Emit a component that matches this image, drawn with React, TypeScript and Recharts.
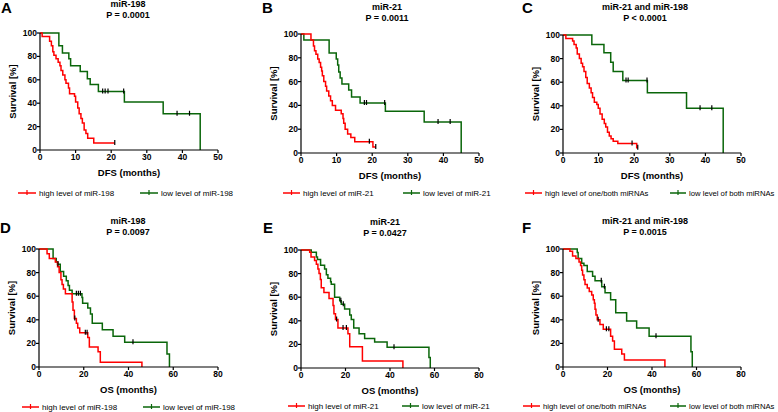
import React from "react";
import { LineChart, Line, XAxis, YAxis } from "recharts";

const FONT = "Arial, 'Liberation Sans', Helvetica, sans-serif";
const RED = "#ff0000";
const GREEN = "#0a660a";

// Kaplan-Meier steps [months, survival %]
const dfs198High: [number, number][] = [
  [0, 100], [0.6, 97], [2.7, 93], [3.2, 89], [3.6, 84], [3.9, 81], [4.5, 78], [5.1, 75],
  [5.6, 72], [5.9, 68], [6.4, 64], [7, 60], [7.3, 57], [8, 53], [8.3, 48], [9.7, 46],
  [10, 41], [10.6, 36], [11, 31], [11.5, 27], [11.9, 23], [12.4, 17], [12.9, 14],
  [13.4, 10], [15.1, 6],
];
const dfs198HighCens = [21];
const dfs198Low: [number, number][] = [
  [0, 100], [5.3, 89], [6.3, 83], [8.1, 78], [8.6, 72], [11.3, 67], [13.3, 61],
  [14.1, 56], [16.4, 50], [23.7, 41], [34.6, 31], [45, 0],
];
const dfs198LowCens = [17.6, 18.3, 19.1, 23.5, 38.5, 42];

const dfs21High: [number, number][] = [
  [0, 100], [2.8, 95], [3.5, 90], [3.8, 86], [4.2, 83], [4.7, 79], [5.1, 76], [5.5, 72],
  [5.8, 69], [6, 65], [6.4, 60], [6.9, 56], [7.2, 52], [7.8, 48], [8.3, 44], [8.8, 40],
  [9.7, 36], [11.3, 33], [11.8, 29], [12, 25], [12.4, 20], [13.1, 16], [14, 13],
  [15.1, 9.5], [20.2, 5],
];
const dfs21HighCens = [19.2, 21];
const dfs21Low: [number, number][] = [
  [0, 100], [0.8, 95], [7.9, 84], [9.9, 79], [10.3, 74], [10.6, 68], [11, 63], [11.5, 58],
  [13.4, 53], [14.2, 47], [16.6, 42], [23.7, 35], [34.6, 26], [45, 0],
];
const dfs21LowCens = [17.8, 18.4, 23.5, 38.5, 41.9];

const dfsBothHigh: [number, number][] = [
  [0, 100], [0.8, 97], [2.7, 95], [3.1, 92], [3.7, 89], [4, 84], [4.6, 80], [5.1, 76],
  [5.5, 73], [5.9, 69], [6.4, 64], [6.8, 59], [7.4, 55], [7.9, 51], [8.3, 47], [8.8, 43],
  [9.5, 41], [9.9, 38], [10.4, 33], [11, 28.5], [11.6, 25], [12, 22], [12.5, 17.5],
  [13, 14.4], [13.5, 12], [14.1, 10], [15.4, 8], [20.7, 4.5],
];
const dfsBothHighCens = [19.4, 21];
const dfsBothLow: [number, number][] = [
  [0, 100], [8.1, 92], [11.5, 85], [13.4, 77], [14.1, 69], [16.8, 61.5], [23.7, 51],
  [34.7, 38], [45, 0],
];
const dfsBothLowCens = [17.7, 18.3, 23.6, 38.5, 41.8];

const os198High: [number, number][] = [
  [0, 100], [3.6, 96], [4.6, 92], [7.3, 89], [8.3, 85], [9, 80], [9.8, 74], [10.3, 70],
  [10.9, 66], [11.8, 62], [14.8, 55], [15.2, 48], [15.8, 41], [16.7, 37], [17.3, 33],
  [18.2, 29], [21.8, 25], [22.5, 17], [26.4, 13], [27.4, 4], [46, 0],
];
const os198HighCens = [16, 20.7, 21.5];
const os198Low: [number, number][] = [
  [0, 100], [6.3, 92], [7.7, 89], [8.3, 87], [9.5, 81], [11, 77], [12.2, 73], [13, 69],
  [13.6, 65], [14.8, 62], [19.2, 59], [19.5, 54], [21.8, 50], [23, 45], [23.8, 37],
  [28.3, 31.6], [33.1, 26], [38.3, 21], [57.2, 11], [58.3, 0],
];
const os198LowCens = [8.5, 16.7, 17.6, 18.5, 42];

const os21High: [number, number][] = [
  [0, 100], [3.9, 98], [4.5, 94], [6.1, 91], [6.9, 88], [7.6, 84], [8.1, 80], [8.7, 75],
  [9.1, 68], [10.3, 64], [12.6, 59], [14.4, 53], [14.8, 46], [15.5, 41], [16.6, 34],
  [21.1, 29], [21.9, 18], [27.6, 6], [45.8, 0],
];
const os21HighCens = [16, 18.9, 20.4];
const os21Low: [number, number][] = [
  [0, 100], [4.6, 98], [6.9, 94], [7.4, 92], [8.8, 87], [10.6, 84], [11.4, 79], [12.1, 76],
  [13.3, 73], [13.6, 71], [15.1, 60], [17.4, 57], [18.1, 54], [19.6, 50], [21.9, 45],
  [22.6, 41], [23.7, 34], [26.1, 29], [28.6, 25], [33.1, 22], [38.7, 17.5], [57.5, 9],
  [58.1, 0],
];
const os21LowCens = [17.9, 19, 41.8];

const osBothHigh: [number, number][] = [
  [0, 100], [3.1, 98], [4.3, 94], [5.8, 92], [7.2, 89], [7.9, 86], [8.4, 82], [8.8, 78],
  [9.4, 74], [9.9, 70], [10.9, 67], [11.8, 64], [12.9, 61], [13.6, 57], [14.1, 54],
  [14.4, 49], [14.8, 44], [15.4, 40], [16.6, 36], [18.1, 32], [21.4, 26], [22.3, 22],
  [23.1, 15], [26.4, 11], [27.6, 6], [45.8, 0],
];
const osBothHighCens = [15.8, 19.5, 20.6];
const osBothLow: [number, number][] = [
  [0, 100], [6.4, 97], [6.8, 92], [8.4, 88], [9.4, 86], [10.9, 81], [13.3, 77], [14.4, 73],
  [17.4, 68], [18.9, 63], [21.4, 57], [23.7, 46], [28.6, 39], [33.1, 33], [38.7, 26],
  [57.5, 13], [58.1, 0],
];
const osBothLowCens = [17.2, 18.6, 41.8];

const dfsTicks = [0, 10, 20, 30, 40, 50];
const osTicks = [0, 20, 40, 60, 80];
const yTicks = [0, 20, 40, 60, 80, 100];

// merge censor marks into the step data (a censor sits on the current level)
function km(steps: [number, number][], cens: number[]) {
  const pts = steps.map(([t, s]) => ({ t, s, c: false }));
  cens.forEach((ct) => {
    let s = 100;
    steps.forEach(([t, v]) => {
      if (t <= ct) s = v;
    });
    pts.push({ t: ct, s, c: true });
  });
  return pts.sort((a, b) => a.t - b.t);
}

const censorDot = (props: any) => {
  const { cx, cy, payload, index } = props;
  if (!payload || !payload.c) return <g key={`n${index}`} />;
  return (
    <line key={`c${index}`} x1={cx} x2={cx} y1={cy - 3} y2={cy + 2} stroke="#000" strokeWidth={1.2} />
  );
};

const panels = [
  {
    letter: "A", title: "miR-198", p: "P = 0.0001", xLabel: "DFS (months)",
    high: km(dfs198High, dfs198HighCens), low: km(dfs198Low, dfs198LowCens),
    highLabel: "high level of miR-198", lowLabel: "low level of miR-198",
    box: [40, 33, 218, 150], xMax: 50, xTicks: dfsTicks, legFont: 8,
    letterX: 1, letterY: 13, titleX: 128, titleY: 7, legY: 193, leg: [18, 39, 140, 161],
  },
  {
    letter: "B", title: "miR-21", p: "P = 0.0011", xLabel: "DFS (months)",
    high: km(dfs21High, dfs21HighCens), low: km(dfs21Low, dfs21LowCens),
    highLabel: "high level of miR-21", lowLabel: "low level of miR-21",
    box: [301, 34, 479, 153], xMax: 50, xTicks: dfsTicks, legFont: 8,
    letterX: 262, letterY: 13, titleX: 387, titleY: 10, legY: 193, leg: [283, 303, 403, 423],
  },
  {
    letter: "C", title: "miR-21 and miR-198", p: "P < 0.0001", xLabel: "DFS (months)",
    high: km(dfsBothHigh, dfsBothHighCens), low: km(dfsBothLow, dfsBothLowCens),
    highLabel: "high level of one/both miRNAs", lowLabel: "low level of both miRNAs",
    box: [563, 35, 741, 153], xMax: 50, xTicks: dfsTicks, legFont: 7.7,
    letterX: 522, letterY: 13, titleX: 645, titleY: 10, legY: 193, leg: [525, 545, 670, 689],
  },
  {
    letter: "D", title: "miR-198", p: "P = 0.0097", xLabel: "OS (months)",
    high: km(os198High, os198HighCens), low: km(os198Low, os198LowCens),
    highLabel: "high level of miR-198", lowLabel: "low level of miR-198",
    box: [39, 249, 218, 367], xMax: 80, xTicks: osTicks, legFont: 8,
    letterX: 0, letterY: 233, titleX: 128, titleY: 224, legY: 407, leg: [22, 42, 143, 163],
  },
  {
    letter: "E", title: "miR-21", p: "P = 0.0427", xLabel: "OS (months)",
    high: km(os21High, os21HighCens), low: km(os21Low, os21LowCens),
    highLabel: "high level of miR-21", lowLabel: "low level of miR-21",
    box: [301, 250, 479, 368], xMax: 80, xTicks: osTicks, legFont: 8,
    letterX: 263, letterY: 233, titleX: 385, titleY: 225, legY: 406, leg: [288, 308, 402, 422],
  },
  {
    letter: "F", title: "miR-21 and miR-198", p: "P = 0.0015", xLabel: "OS (months)",
    high: km(osBothHigh, osBothHighCens), low: km(osBothLow, osBothLowCens),
    highLabel: "high level of one/both miRNAs", lowLabel: "low level of both miRNAs",
    box: [563, 249, 741, 367], xMax: 80, xTicks: osTicks, legFont: 7.7,
    letterX: 522, letterY: 233, titleX: 645, titleY: 224, legY: 406, leg: [523, 543, 670, 689],
  },
];

const tickStyle = { fontSize: 8.5, fontWeight: "bold", fill: "#000", fontFamily: FONT };

function Panel({ cfg }: { cfg: (typeof panels)[number] }) {
  const [x0, y0, x1, y1] = cfg.box;
  const w = x1 - x0 + 52;
  const h = y1 - y0 + 40;
  return (
    <div style={{ position: "absolute", left: x0 - 40, top: y0 - 8 }}>
      <LineChart width={w} height={h} margin={{ top: 8, right: 12, bottom: 0, left: 0 }}>
        <XAxis
          type="number"
          dataKey="t"
          domain={[0, cfg.xMax]}
          ticks={cfg.xTicks}
          interval={0}
          height={32}
          stroke="#000"
          strokeWidth={1.2}
          tickSize={3}
          tickMargin={1}
          tick={tickStyle}
          allowDataOverflow
        />
        <YAxis
          type="number"
          domain={[0, 100]}
          ticks={yTicks}
          interval={0}
          width={40}
          stroke="#000"
          strokeWidth={1.2}
          tickSize={3}
          tickMargin={0}
          tick={tickStyle}
        />
        <Line
          data={cfg.low}
          dataKey="s"
          type="stepAfter"
          stroke={GREEN}
          strokeWidth={1.5}
          dot={censorDot}
          activeDot={false}
          isAnimationActive={false}
        />
        <Line
          data={cfg.high}
          dataKey="s"
          type="stepAfter"
          stroke={RED}
          strokeWidth={1.5}
          dot={censorDot}
          activeDot={false}
          isAnimationActive={false}
        />
      </LineChart>
    </div>
  );
}

function Texts({ cfg }: { cfg: (typeof panels)[number] }) {
  const [x0, y0, x1, y1] = cfg.box;
  const [r1, rt, g1, gt] = cfg.leg;
  const ly = cfg.legY;
  return (
    <g fontFamily={FONT} fill="#000">
      <text x={cfg.letterX} y={cfg.letterY} fontSize={15} fontWeight="bold">{cfg.letter}</text>
      <text x={cfg.titleX} y={cfg.titleY} fontSize={9} fontWeight="bold" textAnchor="middle">{cfg.title}</text>
      <text x={cfg.titleX} y={cfg.titleY + 11} fontSize={9} fontWeight="bold" textAnchor="middle">{cfg.p}</text>
      <text
        transform={`translate(${x0 - 27 + 3.4},${(y0 + y1) / 2}) rotate(-90)`}
        fontSize={9.5}
        fontWeight="bold"
        textAnchor="middle"
      >
        Survival [%]
      </text>
      <text x={(x0 + x1) / 2} y={y1 + 26} fontSize={9.5} fontWeight="bold" textAnchor="middle">{cfg.xLabel}</text>
      <line x1={r1} x2={rt - 3} y1={ly} y2={ly} stroke={RED} strokeWidth={1.5} />
      <line x1={(r1 + rt - 3) / 2} x2={(r1 + rt - 3) / 2} y1={ly - 3} y2={ly + 2} stroke={RED} strokeWidth={1.2} />
      <text x={rt} y={ly + 3} fontSize={cfg.legFont}>{cfg.highLabel}</text>
      <line x1={g1} x2={gt - 3} y1={ly} y2={ly} stroke={GREEN} strokeWidth={1.5} />
      <line x1={(g1 + gt - 3) / 2} x2={(g1 + gt - 3) / 2} y1={ly - 3} y2={ly + 2} stroke={GREEN} strokeWidth={1.2} />
      <text x={gt} y={ly + 3} fontSize={cfg.legFont}>{cfg.lowLabel}</text>
    </g>
  );
}

export default function App() {
  return (
    <div
      style={{
        position: "absolute",
        left: 0,
        top: 0,
        width: 778,
        height: 412,
        background: "#fff",
        overflow: "hidden",
        fontFamily: FONT,
      }}
    >
      {panels.map((cfg) => (
        <Panel key={cfg.letter} cfg={cfg} />
      ))}
      <svg
        width={778}
        height={412}
        style={{ position: "absolute", left: 0, top: 0, pointerEvents: "none" }}
      >
        {panels.map((cfg) => (
          <Texts key={cfg.letter} cfg={cfg} />
        ))}
      </svg>
    </div>
  );
}
